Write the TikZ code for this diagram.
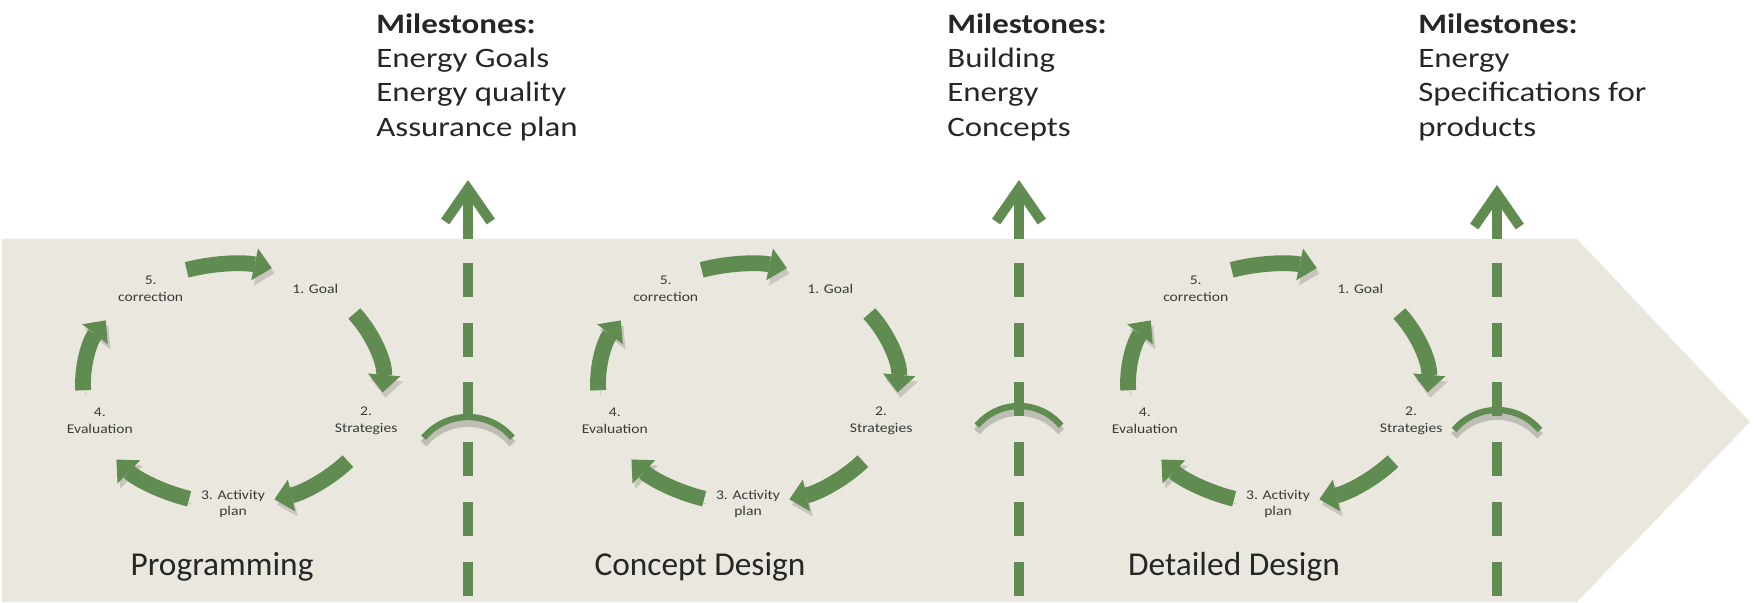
\documentclass[tikz,border=0pt]{standalone}
\usepackage{fontspec}
\setmainfont{Carlito}
\newfontfamily\wideFont[FakeStretch=1.17]{Carlito}
\usepackage{tikz}
\usetikzlibrary{arrows.meta}
\definecolor{bandBeige}{RGB}{234,232,222}
\definecolor{leafGreen}{RGB}{96,140,82}
\definecolor{inkGray}{RGB}{58,58,58}
\definecolor{inkDark}{RGB}{38,38,38}

\begin{document}
\begin{tikzpicture}[x=0.02cm,y=0.02cm,
  cyc/.style={draw=\cArrow, line width=9pt, -{Triangle[width=18.5pt,length=10pt,line width=0pt]},
    preaction={draw=black, opacity=0.15, transform canvas={shift={(1.5pt,-3pt)}}}},
  stepLabel/.style={text=\cText, align=center, inner sep=0pt, font=\wideFont\fontsize{7.6}{9.6}\selectfont},
  stageTitle/.style={text=\cTitle, anchor=base, inner sep=0pt, font=\fontsize{19}{22}\selectfont},
  mileText/.style={text=\cTitle, align=left, anchor=north west, inner sep=0pt, font=\wideFont\fontsize{16}{19.6}\selectfont},
  gateArrow/.style={draw=\cArrow, line width=5.67pt, -{Straight Barb[length=18.7pt,width=26pt]}},
  gateLine/.style={draw=\cArrow, line width=5.67pt, dash pattern=on 19.3pt off 14.7pt},
  jump/.style={draw=\cArrow, line width=3.6pt},
  jumpShadow/.style={draw=black, opacity=0.18, line width=4.5pt}]
\def\cBand{bandBeige}
\def\cArrow{leafGreen}
\def\cText{inkGray}
\def\cTitle{inkDark}
\def\cy{218}
\def\rx{150}
\def\ry{120}
\useasboundingbox (0,0) rectangle (1757,602);
\fill[\cBand] (2,0) -- (2,363) -- (1577,363) -- (1750,180) -- (1577,0) -- cycle;
\def\s{A}
\def\cx{233}
\def\gx{468}
\def\jy{127}
\draw[cyc] (\cx,\cy) ++(108:150 and 120) arc[start angle=108,end angle=75,x radius=\rx,y radius=\ry];
\draw[cyc] (\cx,\cy) ++(36:150 and 120) arc[start angle=36,end angle=-4,x radius=\rx,y radius=\ry];
\draw[cyc] (\cx,\cy) ++(-40:150 and 120) arc[start angle=-40,end angle=-74,x radius=\rx,y radius=\ry];
\draw[cyc] (\cx,\cy) ++(-107:150 and 120) arc[start angle=-107,end angle=-141,x radius=\rx,y radius=\ry];
\draw[cyc] (\cx,\cy) ++(183:150 and 120) arc[start angle=183,end angle=148,x radius=\rx,y radius=\ry];
\path (\cx,\cy) ++(54:140 and 118) node[stepLabel] (goal\s) {1. Goal};
\path (\cx,\cy) ++(-18:140 and 118) node[stepLabel] (strat\s) {2.\\Strategies};
\path (\cx,\cy) ++(-90:140 and 120) node[stepLabel] (plan\s) {3. Activity\\plan};
\path (\cx,\cy) ++(198:140 and 118) node[stepLabel] (eval\s) {4.\\Evaluation};
\path (\cx,\cy) ++(126:140 and 118) node[stepLabel] (corr\s) {5.\\correction};
\node[stageTitle] (stage\s) at (222,27) {Programming};
\draw[jumpShadow] (\gx,\jy-6) ++(140:58) arc[start angle=140,end angle=40,radius=58];
\draw[jump] (\gx,\jy) ++(140:58) arc[start angle=140,end angle=40,radius=58];
\draw[gateLine] (\gx,339) -- (\gx,0);
\coordinate (gate\s) at (\gx,363);
\coordinate (tip\s) at (\gx,422);
\draw[gateArrow] (gate\s) -- (tip\s);
\node[mileText] (mile\s) at (376,589) {\textbf{Milestones:}\\Energy Goals\\Energy quality\\Assurance plan};
\def\s{B}
\def\cx{748}
\def\gx{1019}
\def\jy{141}
\draw[cyc] (\cx,\cy) ++(108:150 and 120) arc[start angle=108,end angle=75,x radius=\rx,y radius=\ry];
\draw[cyc] (\cx,\cy) ++(36:150 and 120) arc[start angle=36,end angle=-4,x radius=\rx,y radius=\ry];
\draw[cyc] (\cx,\cy) ++(-40:150 and 120) arc[start angle=-40,end angle=-74,x radius=\rx,y radius=\ry];
\draw[cyc] (\cx,\cy) ++(-107:150 and 120) arc[start angle=-107,end angle=-141,x radius=\rx,y radius=\ry];
\draw[cyc] (\cx,\cy) ++(183:150 and 120) arc[start angle=183,end angle=148,x radius=\rx,y radius=\ry];
\path (\cx,\cy) ++(54:140 and 118) node[stepLabel] (goal\s) {1. Goal};
\path (\cx,\cy) ++(-18:140 and 118) node[stepLabel] (strat\s) {2.\\Strategies};
\path (\cx,\cy) ++(-90:140 and 120) node[stepLabel] (plan\s) {3. Activity\\plan};
\path (\cx,\cy) ++(198:140 and 118) node[stepLabel] (eval\s) {4.\\Evaluation};
\path (\cx,\cy) ++(126:140 and 118) node[stepLabel] (corr\s) {5.\\correction};
\node[stageTitle] (stage\s) at (700,27) {Concept Design};
\draw[jumpShadow] (\gx,\jy-6) ++(140:55) arc[start angle=140,end angle=40,radius=55];
\draw[jump] (\gx,\jy) ++(140:55) arc[start angle=140,end angle=40,radius=55];
\draw[gateLine] (\gx,339) -- (\gx,0);
\coordinate (gate\s) at (\gx,363);
\coordinate (tip\s) at (\gx,422);
\draw[gateArrow] (gate\s) -- (tip\s);
\node[mileText] (mile\s) at (947,589) {\textbf{Milestones:}\\Building\\Energy\\Concepts};
\def\s{C}
\def\cx{1278}
\def\gx{1497}
\def\jy{136}
\draw[cyc] (\cx,\cy) ++(108:150 and 120) arc[start angle=108,end angle=75,x radius=\rx,y radius=\ry];
\draw[cyc] (\cx,\cy) ++(36:150 and 120) arc[start angle=36,end angle=-4,x radius=\rx,y radius=\ry];
\draw[cyc] (\cx,\cy) ++(-40:150 and 120) arc[start angle=-40,end angle=-74,x radius=\rx,y radius=\ry];
\draw[cyc] (\cx,\cy) ++(-107:150 and 120) arc[start angle=-107,end angle=-141,x radius=\rx,y radius=\ry];
\draw[cyc] (\cx,\cy) ++(183:150 and 120) arc[start angle=183,end angle=148,x radius=\rx,y radius=\ry];
\path (\cx,\cy) ++(54:140 and 118) node[stepLabel] (goal\s) {1. Goal};
\path (\cx,\cy) ++(-18:140 and 118) node[stepLabel] (strat\s) {2.\\Strategies};
\path (\cx,\cy) ++(-90:140 and 120) node[stepLabel] (plan\s) {3. Activity\\plan};
\path (\cx,\cy) ++(198:140 and 118) node[stepLabel] (eval\s) {4.\\Evaluation};
\path (\cx,\cy) ++(126:140 and 118) node[stepLabel] (corr\s) {5.\\correction};
\node[stageTitle] (stage\s) at (1234,27) {Detailed Design};
\draw[jumpShadow] (\gx,\jy-6) ++(140:56) arc[start angle=140,end angle=40,radius=56];
\draw[jump] (\gx,\jy) ++(140:56) arc[start angle=140,end angle=40,radius=56];
\draw[gateLine] (\gx,339) -- (\gx,0);
\coordinate (gate\s) at (\gx,363);
\coordinate (tip\s) at (\gx,417);
\draw[gateArrow] (gate\s) -- (tip\s);
\node[mileText] (mile\s) at (1418,589) {\textbf{Milestones:}\\Energy\\Specifications for\\products};
\end{tikzpicture}
\end{document}
